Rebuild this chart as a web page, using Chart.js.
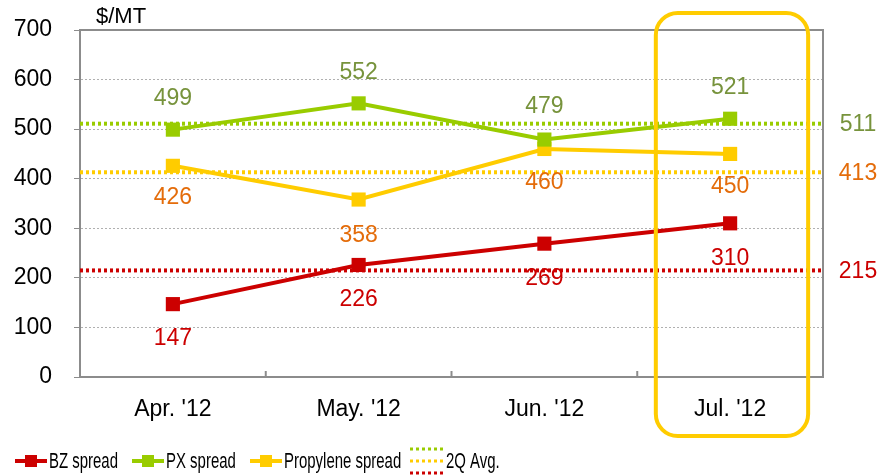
<!DOCTYPE html>
<html>
<head>
<meta charset="utf-8">
<script src="https://cdn.jsdelivr.net/npm/chart.js@4/dist/chart.umd.min.js"></script>
<style>
  html, body { margin: 0; padding: 0; background: #fff; }
  #wrap { width: 881px; height: 475px; position: relative; }
</style>
</head>
<body>
<div id="wrap"><canvas id="spreadChart"></canvas></div>
<script>
const months = ["Apr. '12", "May. '12", "Jun. '12", "Jul. '12"];
const bzSpread = [147, 226, 269, 310];
const pxSpread = [499, 552, 479, 521];
const propSpread = [426, 358, 460, 450];
const avgLabels = ['PX', 'Propylene', 'BZ'];
const avgValues = [511, 413, 215];
const legendLabels = ['BZ spread', 'PX spread', 'Propylene spread', '2Q Avg.'];

const RED = '#CC0000';
const GREEN = '#99CC00';
const YELLOW = '#FFCC00';
const avgColors = [GREEN, YELLOW, RED];
const avgTextColors = ['#77933C', '#E46C0A', RED];
const FONT = '"Liberation Sans", Arial, sans-serif';

// labels above (-) or below (+) the point, per series
const labelSpec = [
    { data: bzSpread, color: RED, off: [35, 35, 35, 35] },
    { data: pxSpread, color: '#77933C', off: [-31, -31, -33, -31] },
    { data: propSpread, color: '#E46C0A', off: [32, 36, 34, 33] },
];

const extras = {
    id: 'extras',
    beforeDatasetsDraw(chart) {
        const { ctx, chartArea: a, scales: { x, y } } = chart;
        ctx.save();
        // plot frame (top/right)
        ctx.strokeStyle = '#8c8c8c';
        ctx.lineWidth = 2;
        ctx.beginPath();
        ctx.moveTo(a.left, a.top);
        ctx.lineTo(a.right, a.top);
        ctx.lineTo(a.right, a.bottom);
        ctx.stroke();
        // x ticks between categories, pointing up
        const step = x.getPixelForValue(1) - x.getPixelForValue(0);
        for (let i = 1; i < months.length; i++) {
            const px = x.getPixelForValue(i) - step / 2;
            ctx.beginPath();
            ctx.moveTo(px, a.bottom);
            ctx.lineTo(px, a.bottom - 6);
            ctx.stroke();
        }
        // 2Q average lines
        ctx.lineWidth = 4;
        ctx.setLineDash([3, 3]);
        avgValues.forEach((v, i) => {
            const py = y.getPixelForValue(v);
            ctx.strokeStyle = avgColors[i];
            ctx.beginPath();
            ctx.moveTo(a.left, py);
            ctx.lineTo(a.right, py);
            ctx.stroke();
        });
        ctx.restore();
    },
    afterDraw(chart) {
        const { ctx, chartArea: a, scales: { x, y } } = chart;
        ctx.save();
        ctx.font = '23px ' + FONT;
        ctx.textAlign = 'center';
        ctx.textBaseline = 'middle';
        // point labels
        labelSpec.forEach(s => {
            ctx.fillStyle = s.color;
            s.data.forEach((v, i) => {
                ctx.fillText(String(v), x.getPixelForValue(i), y.getPixelForValue(v) + s.off[i]);
            });
        });
        // avg labels on the right
        avgValues.forEach((v, i) => {
            ctx.fillStyle = avgTextColors[i];
            ctx.fillText(String(v), a.right + 35, y.getPixelForValue(v) + 1);
        });
        // unit
        ctx.fillStyle = '#000';
        ctx.textAlign = 'left';
        ctx.font = '22px ' + FONT;
        ctx.fillText('$/MT', a.left + 16, 17);

        // highlight box around last month
        const step = x.getPixelForValue(1) - x.getPixelForValue(0);
        const cx = x.getPixelForValue(months.length - 1);
        const bx0 = cx - step * 0.4, bx1 = cx + step * 0.42;
        const by0 = 13, by1 = 436;
        ctx.strokeStyle = YELLOW;
        ctx.lineWidth = 4;
        ctx.beginPath();
        ctx.roundRect(bx0, by0, bx1 - bx0, by1 - by0, 22);
        ctx.stroke();

        // legend
        const ly = 461;
        const items = [
            { x: 15, color: RED, text: legendLabels[0] },
            { x: 132, color: GREEN, text: legendLabels[1] },
            { x: 250, color: YELLOW, text: legendLabels[2] },
        ];
        ctx.font = '22px ' + FONT;
        ctx.textBaseline = 'middle';
        const drawNarrow = (txt, tx) => {
            ctx.save();
            ctx.translate(tx, ly + 1);
            ctx.scale(0.68, 1);
            ctx.fillStyle = '#000';
            ctx.fillText(txt, 0, 0);
            ctx.restore();
        };
        items.forEach(it => {
            ctx.strokeStyle = it.color;
            ctx.fillStyle = it.color;
            ctx.lineWidth = 4;
            ctx.beginPath();
            ctx.moveTo(it.x, ly);
            ctx.lineTo(it.x + 32, ly);
            ctx.stroke();
            ctx.fillRect(it.x + 10, ly - 6, 12, 12);
            drawNarrow(it.text, it.x + 34);
        });
        ctx.setLineDash([3, 3]);
        ctx.lineWidth = 3;
        [GREEN, YELLOW, RED].forEach((c, i) => {
            ctx.strokeStyle = c;
            ctx.beginPath();
            ctx.moveTo(410, 449 + i * 12);
            ctx.lineTo(443, 449 + i * 12);
            ctx.stroke();
        });
        ctx.setLineDash([]);
        drawNarrow(legendLabels[3], 446);
        ctx.restore();
    }
};

function series(label, data, color) {
    return {
        label: label,
        data: data,
        borderColor: color,
        backgroundColor: color,
        borderWidth: 4,
        pointStyle: 'rect',
        pointRadius: 10,
        pointHoverRadius: 10,
        pointBorderWidth: 0,
        tension: 0,
    };
}

new Chart(document.getElementById('spreadChart').getContext('2d'), {
    type: 'line',
    data: {
        labels: months,
        datasets: [
            series(legendLabels[0], bzSpread, RED),
            series(legendLabels[1], pxSpread, GREEN),
            series(legendLabels[2], propSpread, YELLOW),
        ],
    },
    options: {
        responsive: true,
        maintainAspectRatio: false,
        animation: false,
        layout: { padding: { left: 0, right: 58, top: 30, bottom: 48 } },
        plugins: {
            legend: { display: false },
            tooltip: { enabled: false },
        },
        scales: {
            x: {
                offset: true,
                grid: { display: false },
                border: { color: '#8c8c8c', width: 2 },
                ticks: { color: '#000', font: { family: FONT, size: 23 }, padding: 11 },
                afterFit: s => { s.height = 50; },
            },
            y: {
                min: 0,
                max: 700,
                ticks: { stepSize: 100, color: '#000', font: { family: FONT, size: 23 }, padding: 22 },
                border: { color: '#8c8c8c', width: 2, dash: [2, 2] },
                grid: {
                    color: '#b0b0b0',
                    lineWidth: 1,
                    tickLength: 6,
                    tickColor: '#8c8c8c',
                    tickBorderDash: [],
                },
                afterFit: s => {
                    s.width = 80;
                    s.paddingTop = 10;
                    s.paddingBottom = 10;
                },
            },
        },
    },
    plugins: [extras],
});
</script>
</body>
</html>
